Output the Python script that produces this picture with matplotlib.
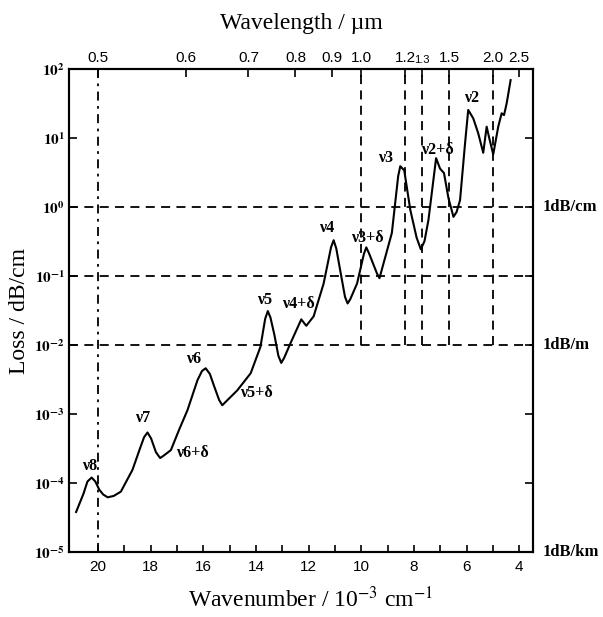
import numpy as np
import matplotlib
matplotlib.use("Agg")
import matplotlib.pyplot as plt
from matplotlib.ticker import FixedLocator
import matplotlib.transforms as mtrans

plt.rcParams['mathtext.fontset'] = 'stix'
serif = 'Liberation Serif'
sans = 'Liberation Sans'

# loss spectrum (wavenumber in 10^3 cm^-1, loss in dB/cm)
wavenumber = [20.83, 20.55, 20.40, 20.24, 20.10, 19.95, 19.80, 19.63, 19.40, 19.13,
              18.69, 18.40, 18.25, 18.12, 17.98, 17.80, 17.64, 17.50, 17.23, 16.92,
              16.60, 16.22, 16.05, 15.91, 15.75, 15.60, 15.40, 15.28, 15.15, 14.71,
              14.20, 13.83, 13.65, 13.55, 13.45, 13.30, 13.15, 13.04, 12.93, 12.69,
              12.28, 12.09, 11.81, 11.43, 11.15, 11.05, 10.95, 10.80, 10.62, 10.52,
              10.42, 10.16, 9.90, 9.81, 9.70, 9.41, 9.31, 8.84, 8.60, 8.52,
              8.37, 8.14, 7.90, 7.74, 7.60, 7.45, 7.16, 7.01, 6.86, 6.69,
              6.50, 6.38, 6.25, 6.06, 5.94, 5.75, 5.56, 5.37, 5.24, 5.14,
              4.99, 4.80, 4.67, 4.58, 4.48, 4.33]
loss = [3.8e-5, 7.0e-5, 1.05e-4, 1.2e-4, 1.05e-4, 8.0e-5, 6.8e-5, 6.2e-5, 6.5e-5, 7.5e-5,
        1.55e-4, 3.2e-4, 4.6e-4, 5.4e-4, 4.4e-4, 2.8e-4, 2.3e-4, 2.5e-4, 3.0e-4, 5.9e-4,
        1.14e-3, 3.1e-3, 4.2e-3, 4.6e-3, 3.8e-3, 2.6e-3, 1.6e-3, 1.34e-3, 1.5e-3, 2.2e-3,
        3.9e-3, 9.4e-3, 2.4e-2, 3.1e-2, 2.5e-2, 1.4e-2, 7.0e-3, 5.5e-3, 6.5e-3, 1.06e-2,
        2.35e-2, 1.9e-2, 2.6e-2, 7.8e-2, 0.26, 0.33, 0.25, 0.12, 0.05, 0.040,
        0.046, 0.078, 0.21, 0.26, 0.21, 0.11, 0.093, 0.42, 2.8, 3.9,
        3.4, 0.91, 0.36, 0.244, 0.32, 0.65, 5.1, 3.6, 3.1, 1.34,
        0.72, 0.85, 1.26, 8.4, 25.5, 19.3, 11.7, 6.1, 14.6, 9.9,
        5.8, 14.6, 22.8, 21.5, 31.8, 69.0]

# band labels
band_text = ['ν8', 'ν7', 'ν6+δ', 'ν6', 'ν5+δ', 'ν5', 'ν4+δ', 'ν4', 'ν3+δ', 'ν3', 'ν2+δ', 'ν2']
band_x = [20.33, 18.31, 16.41, 16.35, 13.98, 13.67, 12.38, 11.33, 9.78, 9.09, 7.11, 5.81]
band_y = [1.76e-4, 8.7e-4, 2.75e-4, 6.2e-3, 2.04e-3, 4.5e-2, 3.9e-2, 0.49, 0.36, 5.1, 6.7, 37.6]

# top axis: wavelength in um
wl_ticks = [0.5, 0.6, 0.7, 0.8, 0.9, 1.0, 1.2, 1.3, 1.5, 2.0, 2.5]
wl_labels = ['0.5', '0.6', '0.7', '0.8', '0.9', '1.0', '1.2', '1.3', '1.5', '2.0', '2.5']

# reference lines
h_lines = [1.0, 0.1, 0.01]
right_labels = ['1dB/cm', '1dB/m', '1dB/km']
right_vals = [1.0, 0.01, 1e-5]
v_full = [0.5]
v_short = [1.0, 1.2, 1.3, 1.5, 2.0]

fig = plt.figure(figsize=(6.03, 6.17), dpi=100)
ax = fig.add_axes([69/603, 1-552/617, (533-69)/603, (552-69)/617])

ax.set_yscale('log')
xlim = (21.1, 3.48)
ax.set_xlim(*xlim)
ax.set_ylim(1e-5, 1e2)

dash = (0, (5, 3.5))
for h in h_lines:
    ax.plot(xlim, [h, h], color='black', lw=1.3, ls=dash)
for w in v_full:
    ax.plot([10/w, 10/w], [1e-5, 1e2], color='black', lw=1.3, ls=(0, (5, 3, 1.5, 3)))
for w in v_short:
    ax.plot([10/w, 10/w], [1e-2, 1e2], color='black', lw=1.3, ls=dash)

ax.plot(wavenumber, loss, color='black', lw=1.5)

for t, x, y in zip(band_text, band_x, band_y):
    ax.text(x, y, t, ha='center', va='center', fontsize=11.5, family=serif,
            fontweight='bold')

for sp in ax.spines.values():
    sp.set_linewidth(1.5)

ax.xaxis.set_major_locator(FixedLocator(range(4, 21, 2)))
ax.xaxis.set_minor_locator(FixedLocator(range(5, 21, 2)))
ax.tick_params(axis='x', which='both', direction='in', length=5, width=1.2,
               labelsize=11, pad=6)
for lab in ax.get_xticklabels():
    lab.set_family(sans)

decades = [1e-5, 1e-4, 1e-3, 1e-2, 1e-1, 1e0, 1e1, 1e2]
ax.yaxis.set_major_locator(FixedLocator(decades))
ax.yaxis.set_minor_locator(FixedLocator([]))
ax.set_yticklabels([r'$\mathbf{10^{%d}}$' % int(np.log10(d)) for d in decades])
ax.tick_params(axis='y', which='both', direction='in', length=6, width=1.2,
               labelsize=11, right=True, pad=3)

ax.set_xlabel('Wavenumber / 10$^{-3}$ cm$^{-1}$', family=serif, fontsize=17)
ax.xaxis.set_label_coords(0.52, -(599-552)/483)
ax.xaxis.label.set_va('center')
ax.set_ylabel('Loss / dB/cm', family=serif, fontsize=17)
ax.yaxis.set_label_coords(-(69-20)/464, 0.5)
ax.yaxis.label.set_va('center')

ax2 = ax.twiny()
ax2.set_xlim(ax.get_xlim())
ax2.set_xticks([10/w for w in wl_ticks])
ax2.set_xticklabels(wl_labels)
ax2.tick_params(axis='x', direction='in', length=6, width=1.2, labelsize=11, pad=3)
for lab in ax2.get_xticklabels():
    lab.set_family(sans)
    if lab.get_text() == '1.3':
        lab.set_fontsize(8)
ax2.set_xlabel('Wavelength / µm', family=serif, fontsize=17)
ax2.xaxis.set_label_coords(0.5, 1 + (69-23)/483)
ax2.xaxis.label.set_va('center')
for sp in ax2.spines.values():
    sp.set_linewidth(1.5)

trans = mtrans.blended_transform_factory(ax.transAxes, ax.transData)
for t, v in zip(right_labels, right_vals):
    ax.text(1.02, v, t, transform=trans, ha='left', va='center', fontsize=12,
            family=serif, fontweight='bold')

fig.savefig('out.png', dpi=100)
